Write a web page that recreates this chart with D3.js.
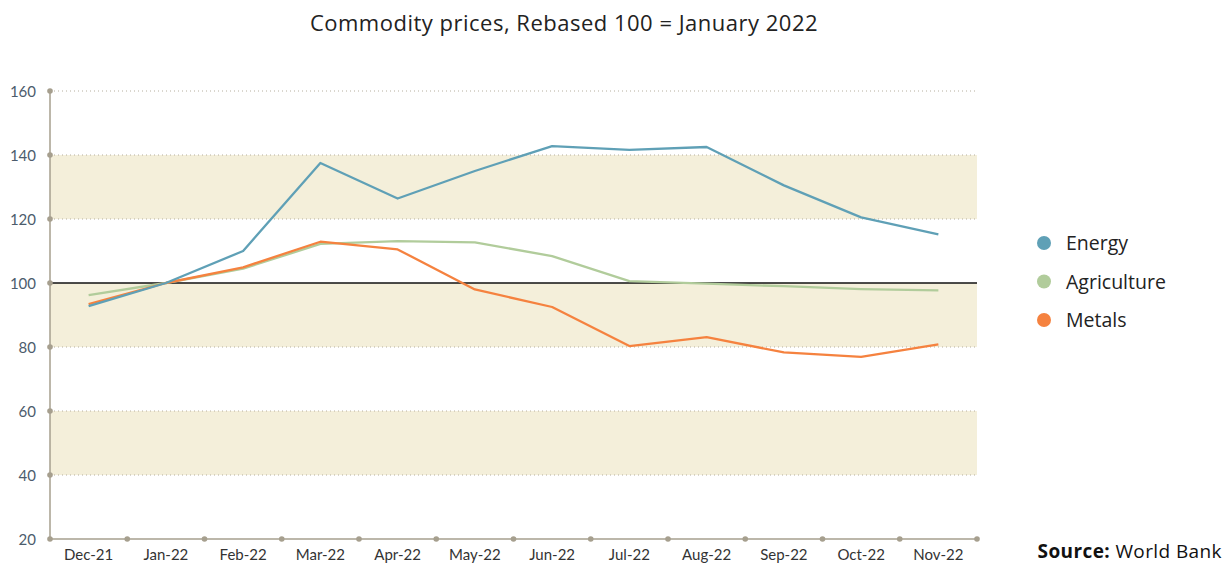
<!DOCTYPE html>
<html><head><meta charset="utf-8">
<script src="https://cdn.jsdelivr.net/npm/d3@7"></script>
<style>body{margin:0;background:#fff;}svg{display:block;font-family:Lato,"Open Sans",sans-serif;}</style>
</head><body><svg id="c" width="1225" height="563"></svg>
<script>
const months = ["Dec-21","Jan-22","Feb-22","Mar-22","Apr-22","May-22","Jun-22","Jul-22","Aug-22","Sep-22","Oct-22","Nov-22"];
const energy = [92.8,100,110,137.5,126.4,135,142.8,141.6,142.5,130.5,120.5,115.2];
const agriculture = [96.2,100,104.5,112.2,113.1,112.7,108.4,100.6,99.8,99,98.1,97.7];
const metals = [93.4,100,104.9,112.9,110.5,98,92.5,80.3,83.1,78.3,76.9,80.8];
const seriesNames = ["Energy","Agriculture","Metals"];
const seriesColors = ["#5fa0b6","#b1cc9b","#f5823f"];
const yTicks = [20,40,60,80,100,120,140,160];
const shadedBands = [[40,60],[80,100],[120,140]];

const svg = d3.select("#c");
const L=50,R=977,T=91,B=539;
const x = d3.scaleBand().domain(months).range([L,R]);
const y = d3.scaleLinear().domain([20,160]).range([B,T]);
const axisCol="#a69f8e";
const wide = "'Open Sans',Lato,sans-serif";

svg.append("text").attr("x",564).attr("y",31).attr("text-anchor","middle").attr("font-family",wide)
  .attr("font-size",22).attr("letter-spacing",0.5).attr("fill","#222").text("Commodity prices, Rebased 100 = January 2022");

svg.selectAll("rect.band").data(shadedBands).join("rect")
  .attr("x",L).attr("width",R-L).attr("y",d=>y(d[1])).attr("height",d=>y(d[0])-y(d[1]))
  .attr("fill","#f4efda");

svg.selectAll("line.grid").data(yTicks.filter(t=>t!==20&&t!==100)).join("line")
  .attr("x1",L).attr("x2",R).attr("y1",d=>y(d)).attr("y2",d=>y(d))
  .attr("stroke","#b5ae9e").attr("stroke-width",1).attr("stroke-dasharray","1,3");

svg.append("line").attr("x1",L).attr("x2",R).attr("y1",y(100)).attr("y2",y(100))
  .attr("stroke","#111").attr("stroke-width",1.3);

// axes
svg.append("line").attr("x1",L).attr("x2",L).attr("y1",T).attr("y2",B).attr("stroke",axisCol).attr("stroke-width",1.5);
svg.append("line").attr("x1",L).attr("x2",R).attr("y1",B).attr("y2",B).attr("stroke",axisCol).attr("stroke-width",1.5);
svg.selectAll("circle.yt").data(yTicks).join("circle").attr("cx",L).attr("cy",d=>y(d)).attr("r",2.8).attr("fill",axisCol);
const bounds = months.map(m=>x(m)+x.bandwidth()); 
svg.selectAll("circle.xt").data(bounds).join("circle").attr("cx",d=>d).attr("cy",B).attr("r",2.8).attr("fill",axisCol);

svg.selectAll("text.yl").data(yTicks).join("text").attr("x",36).attr("y",d=>y(d)+5.5)
  .attr("text-anchor","end").attr("font-size",15).attr("fill","#4c5c6c").text(d=>d);
svg.selectAll("text.xl").data(months).join("text").attr("x",d=>x(d)+x.bandwidth()/2).attr("y",560)
  .attr("text-anchor","middle").attr("font-size",15).attr("fill","#333").text(d=>d);

const data=[energy,agriculture,metals];
const line=d3.line().x((d,i)=>x(months[i])+x.bandwidth()/2).y(d=>y(d));
[1,2,0].forEach(k=>{
  svg.append("path").datum(data[k]).attr("d",line).attr("fill","none")
    .attr("stroke",seriesColors[k]).attr("stroke-width",2.3).attr("stroke-linejoin","round");
});

const lg=svg.selectAll("g.lg").data(seriesNames).join("g").attr("transform",(d,i)=>`translate(1044,${243+i*38.5})`);
lg.append("circle").attr("r",7).attr("fill",(d,i)=>seriesColors[i]);
lg.append("text").attr("x",22).attr("y",7).attr("font-family",wide).attr("font-size",19.5).attr("fill","#222").text(d=>d);

const src=svg.append("text").attr("x",1222).attr("y",558).attr("text-anchor","end").attr("font-family",wide).attr("font-size",19).attr("letter-spacing",0.4).attr("fill","#111");
src.append("tspan").attr("font-weight","bold").text("Source:");
src.append("tspan").text(" World Bank");
</script></body></html>
